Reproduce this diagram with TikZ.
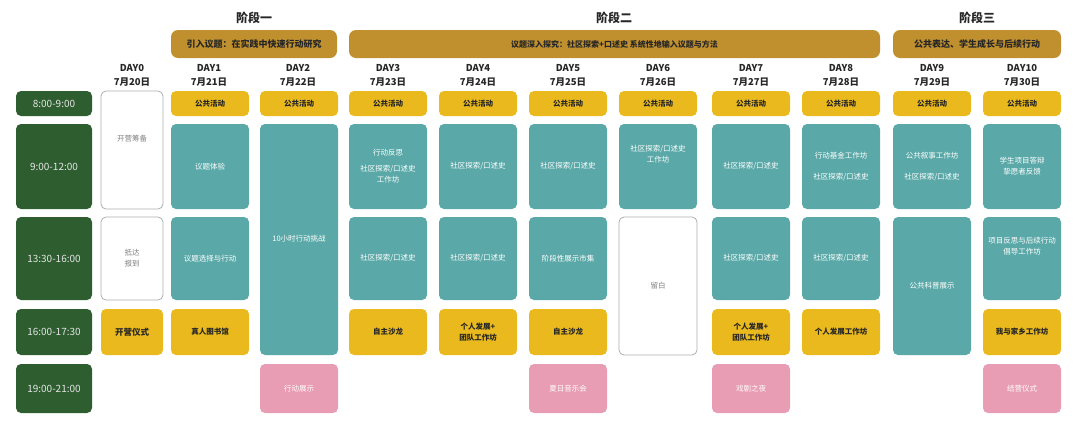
\documentclass[tikz,border=0pt]{standalone}
\usepackage{fontspec}
\setmainfont{Noto Sans CJK SC}
\definecolor{cgreen}{HTML}{2E5E30}
\definecolor{cgold}{HTML}{C08F2E}
\definecolor{cyel}{HTML}{E9B91E}
\definecolor{cteal}{HTML}{5AA9A8}
\definecolor{cpink}{HTML}{E89DB5}
\definecolor{cgrey}{HTML}{AAB0B0}
\tikzset{
 base/.style={rounded corners=5pt, inner sep=0pt, align=center, font=\fontsize{7.5}{11}\selectfont},
 tgreen/.style={base, fill=cgreen, text=white!90!black, font=\fontsize{10}{12}\selectfont},
 tyel/.style={base, fill=cyel, text=black!85, font=\fontsize{7.5}{11}\selectfont\bfseries},
 tteal/.style={base, fill=cteal, text=white},
 tpink/.style={base, fill=cpink, text=white},
 twhite/.style={base, draw=cgrey, line width=0.8pt, fill=white, text=gray},
 tgold/.style={base, rounded corners=7pt, fill=cgold, text=black!85, font=\fontsize{9}{11}\selectfont\bfseries},
 dayhd/.style={align=center, font=\fontsize{9.5}{14}\selectfont\bfseries, text=black!85},
 stage/.style={font=\fontsize{12}{14}\selectfont\bfseries, text=black!85}
}
\newcommand{\bx}[7]{\node[#6, minimum width={(#4-#2)*1pt}, minimum height={(#5-#3)*1pt}] (#1) at ({(#2+#4)/2*1pt},{-(#3+#5)/2*1pt}) {#7};}
\newcommand{\dayh}[4]{\node[dayhd] (#1) at (#2pt,-75pt) {#3\\#4};}
\newcommand{\pub}[2]{\bx{#1}{#2}{91}{#2+78}{116}{tyel}{公共活动}}
\begin{document}
\begin{tikzpicture}
\useasboundingbox (0,0) rectangle (1080pt,-432pt);
% time column
\bx{t1}{16}{91}{92}{116}{tgreen}{8:00-9:00}
\bx{t2}{16}{124}{92}{209}{tgreen}{9:00-12:00}
\bx{t3}{16}{217}{92}{300}{tgreen}{13:30-16:00}
\bx{t4}{16}{309}{92}{355}{tgreen}{16:00-17:30}
\bx{t5}{16}{364}{92}{413}{tgreen}{19:00-21:00}
% stages
\node[stage] (s1) at (254pt,-18pt) {阶段一};
\node[stage] (s2) at (614pt,-18pt) {阶段二};
\node[stage] (s3) at (977pt,-18pt) {阶段三};
\bx{b1}{171}{30}{337}{58}{tgold}{引入议题：在实践中快速行动研究}
\bx{b2}{349}{30}{880}{58}{tgold,font=\fontsize{8}{10}\selectfont\bfseries}{议题深入探究：社区探索+口述史 系统性地输入议题与方法}
\bx{b3}{893}{30}{1061}{58}{tgold}{公共表达、学生成长与后续行动}
% day headers
\dayh{d0}{132}{DAY0}{7月20日}
\dayh{d1}{209}{DAY1}{7月21日}
\dayh{d2}{298}{DAY2}{7月22日}
\dayh{d3}{388}{DAY3}{7月23日}
\dayh{d4}{478}{DAY4}{7月24日}
\dayh{d5}{568}{DAY5}{7月25日}
\dayh{d6}{658}{DAY6}{7月26日}
\dayh{d7}{751}{DAY7}{7月27日}
\dayh{d8}{841}{DAY8}{7月28日}
\dayh{d9}{932}{DAY9}{7月29日}
\dayh{d10}{1022}{DAY10}{7月30日}
% morning public
\pub{p1}{171}\pub{p2}{260}\pub{p3}{349}\pub{p4}{439}\pub{p5}{529}
\pub{p6}{619}\pub{p7}{712}\pub{p8}{802}\pub{p9}{893}\pub{p10}{983}
% day0
\bx{z1}{101}{91}{163}{209}{twhite}{开营筹备\\[12pt]}
\bx{z2}{101}{217}{163}{300}{twhite}{抵达\\报到}
\bx{z3}{101}{309}{163}{355}{tyel,font=\fontsize{8.5}{11}\selectfont\bfseries}{开营仪式}
% day1
\bx{a1}{171}{124}{249}{209}{tteal}{议题体验}
\bx{a2}{171}{217}{249}{300}{tteal}{议题选择与行动}
\bx{a3}{171}{309}{249}{355}{tyel}{真人图书馆}
% day2
\bx{c1}{260}{124}{338}{355}{tteal}{}
\node[text=white, font=\fontsize{7.5}{11}\selectfont] (c1t) at (299pt,-239pt) {10小时行动挑战};
\bx{c2}{260}{364}{338}{413}{tpink}{行动展示}
% day3
\bx{e1}{349}{124}{427}{209}{tteal}{行动反思\\[5pt]社区探索/口述史\\工作坊}
\bx{e2}{349}{217}{427}{300}{tteal}{社区探索/口述史}
\bx{e3}{349}{309}{427}{355}{tyel}{自主沙龙}
% day4
\bx{f1}{439}{124}{517}{209}{tteal}{社区探索/口述史}
\bx{f2}{439}{217}{517}{300}{tteal}{社区探索/口述史}
\bx{f3}{439}{309}{517}{355}{tyel}{个人发展+\\团队工作坊}
% day5
\bx{g1}{529}{124}{607}{209}{tteal}{社区探索/口述史}
\bx{g2}{529}{217}{607}{300}{tteal}{阶段性展示市集}
\bx{g3}{529}{309}{607}{355}{tyel}{自主沙龙}
\bx{g4}{529}{364}{607}{413}{tpink}{夏日音乐会}
% day6
\bx{h1}{619}{124}{697}{209}{tteal}{社区探索/口述史\\工作坊\\[14pt]}
\bx{h2}{619}{217}{697}{355}{twhite}{留白}
% day7
\bx{i1}{712}{124}{790}{209}{tteal}{社区探索/口述史}
\bx{i2}{712}{217}{790}{300}{tteal}{社区探索/口述史}
\bx{i3}{712}{309}{790}{355}{tyel}{个人发展+\\团队工作坊}
\bx{i4}{712}{364}{790}{413}{tpink}{戏剧之夜}
% day8
\bx{j1}{802}{124}{880}{209}{tteal}{行动基金工作坊\\[10pt]社区探索/口述史}
\bx{j2}{802}{217}{880}{300}{tteal}{社区探索/口述史}
\bx{j3}{802}{309}{880}{355}{tyel}{个人发展工作坊}
% day9
\bx{k1}{893}{124}{971}{209}{tteal}{公共叙事工作坊\\[10pt]社区探索/口述史}
\bx{k2}{893}{217}{971}{355}{tteal}{公共科普展示}
% day10
\bx{l1}{983}{124}{1061}{209}{tteal}{学生项目答辩\\挚愿者反馈}
\bx{l2}{983}{217}{1061}{300}{tteal}{项目反思与后续行动\\倡导工作坊\\[14pt]}
\bx{l3}{983}{309}{1061}{355}{tyel}{我与家乡工作坊}
\bx{l4}{983}{364}{1061}{413}{tpink}{结营仪式}
\end{tikzpicture}
\end{document}
